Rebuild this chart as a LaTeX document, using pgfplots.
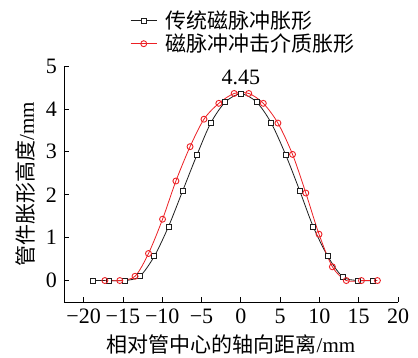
\documentclass[border=0pt]{standalone}
\usepackage{fontspec}
\setmainfont{Liberation Serif}
\newfontfamily\cjk{Noto Sans CJK SC}
\usepackage{pgfplots}
\pgfplotsset{compat=1.18}
\definecolor{myred}{RGB}{236,32,36}
\definecolor{myblack}{RGB}{30,30,30}
\begin{document}
\fontsize{21bp}{25bp}\selectfont
\begin{tikzpicture}
\useasboundingbox (-64bp,-56bp) rectangle (354bp,302bp);
\begin{axis}[
  scale only axis, width=334bp, height=236bp,
  xmin=-22.5, xmax=20, ymin=-0.5, ymax=5,
  axis x line*=bottom, axis y line*=left,
  axis line style={line width=0.8pt},
  tick style={line width=0.8pt, black},
  tick align=inside, major tick length=5bp,
  xtick={-20,-15,...,20},
  xticklabels={−20,−15,−10,−5,0,5,10,15,20},
  ytick={0,1,2,3,4,5},
  yticklabels={0,1,2,3,4,5},
  tick label style={font=\fontsize{22bp}{25bp}\selectfont},
  xlabel={{\cjk 相对管中心的轴向距离}/mm},
  ylabel={{\cjk 管件胀形高度}/mm},
  label style={font=\fontsize{21bp}{25bp}\selectfont},
  xlabel style={yshift=4bp},
  ylabel style={yshift=-4bp},
  legend style={at={(0.198,1.245)}, anchor=north west, draw=none, fill=none,
     font=\fontsize{21bp}{24bp}\selectfont\cjk, row sep=-2bp,
     inner sep=0pt},
  legend cell align=left,
  legend image code/.code={
    \draw[#1, mark repeat=2, mark phase=2] plot coordinates {(0bp,0bp) (13bp,0bp) (26bp,0bp)};
  },
  clip=false,
]
\addplot[myblack, line width=0.8pt, smooth, tension=0.5, mark=square*, mark size=2.5pt,
  mark options={fill=white, solid, line width=0.9pt}] coordinates {
(-18.8,0) (-16.8,0) (-14.75,0) (-12.85,0.1) (-11.0,0.57) (-9.2,1.26) (-7.4,2.09)
(-5.6,2.92) (-3.83,3.67) (-1.97,4.16) (0,4.35) (2.0,4.16) (3.87,3.67) (5.73,2.92)
(7.5,2.09) (9.2,1.26) (11.05,0.57) (12.94,0.09) (14.87,0) (16.8,0)
};
\addlegendentry{\hspace{6bp}传统磁脉冲胀形}
\addplot[myred, line width=0.8pt, smooth, tension=0.5, mark=o, mark size=3pt,
  mark options={fill=white, solid, line width=0.9pt}] coordinates {
(-17.3,0) (-15.4,0) (-13.46,0.1) (-11.75,0.63) (-9.96,1.43) (-8.26,2.32) (-6.46,3.12)
(-4.69,3.76) (-2.8,4.13) (-0.85,4.36) (1.01,4.36) (2.86,4.13) (4.72,3.67) (6.58,2.94)
(8.27,2.04) (9.95,1.08) (11.65,0.32) (13.42,0) (15.35,0) (17.38,0)
};
\addlegendentry{\hspace{6bp}磁脉冲冲击介质胀形}
\node[font=\fontsize{22bp}{25bp}\selectfont] at (axis cs:0,4.74) {4.45};
\end{axis}
\end{tikzpicture}
\end{document}
